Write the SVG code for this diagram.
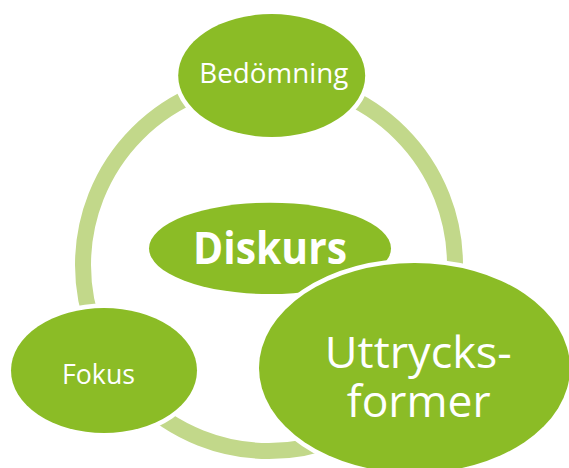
<svg xmlns="http://www.w3.org/2000/svg" width="569" height="468" viewBox="0 0 569 468">
<style>
.node{fill:#8bbc26;stroke:#ffffff;stroke-width:9;paint-order:stroke}
.lbl{fill:#ffffff;font-family:"Open Sans","Noto Sans",sans-serif;text-anchor:middle}
</style>
<rect width="569" height="468" fill="#ffffff"/>
<g id="connectors">
<circle cx="269" cy="265" r="186" fill="none" stroke="#c2d88a" stroke-width="16"/>
</g>
<g id="bedomning">
<ellipse class="node" cx="271.7" cy="75.5" rx="93.5" ry="61.5"/>
<text class="lbl" x="273.8" y="83" font-size="27" textLength="149" lengthAdjust="spacingAndGlyphs">Bedömning</text>
</g>
<g id="diskurs">
<ellipse class="node" cx="270" cy="248.4" rx="121" ry="45.7"/>
<text class="lbl" x="270" y="264" font-size="44" font-weight="bold" textLength="154" lengthAdjust="spacingAndGlyphs">Diskurs</text>
</g>
<g id="fokus">
<ellipse class="node" cx="104" cy="370.5" rx="93" ry="62.5"/>
<text class="lbl" x="98.5" y="384" font-size="26.5" textLength="73" lengthAdjust="spacingAndGlyphs">Fokus</text>
</g>
<g id="uttrycksformer">
<ellipse class="node" cx="414.5" cy="368" rx="155.5" ry="105"/>
<text class="lbl" x="418.3" y="368" font-size="44" textLength="187" lengthAdjust="spacingAndGlyphs">Uttrycks-</text>
<text class="lbl" x="418.7" y="416.5" font-size="44" textLength="144" lengthAdjust="spacingAndGlyphs">former</text>
</g>
</svg>
